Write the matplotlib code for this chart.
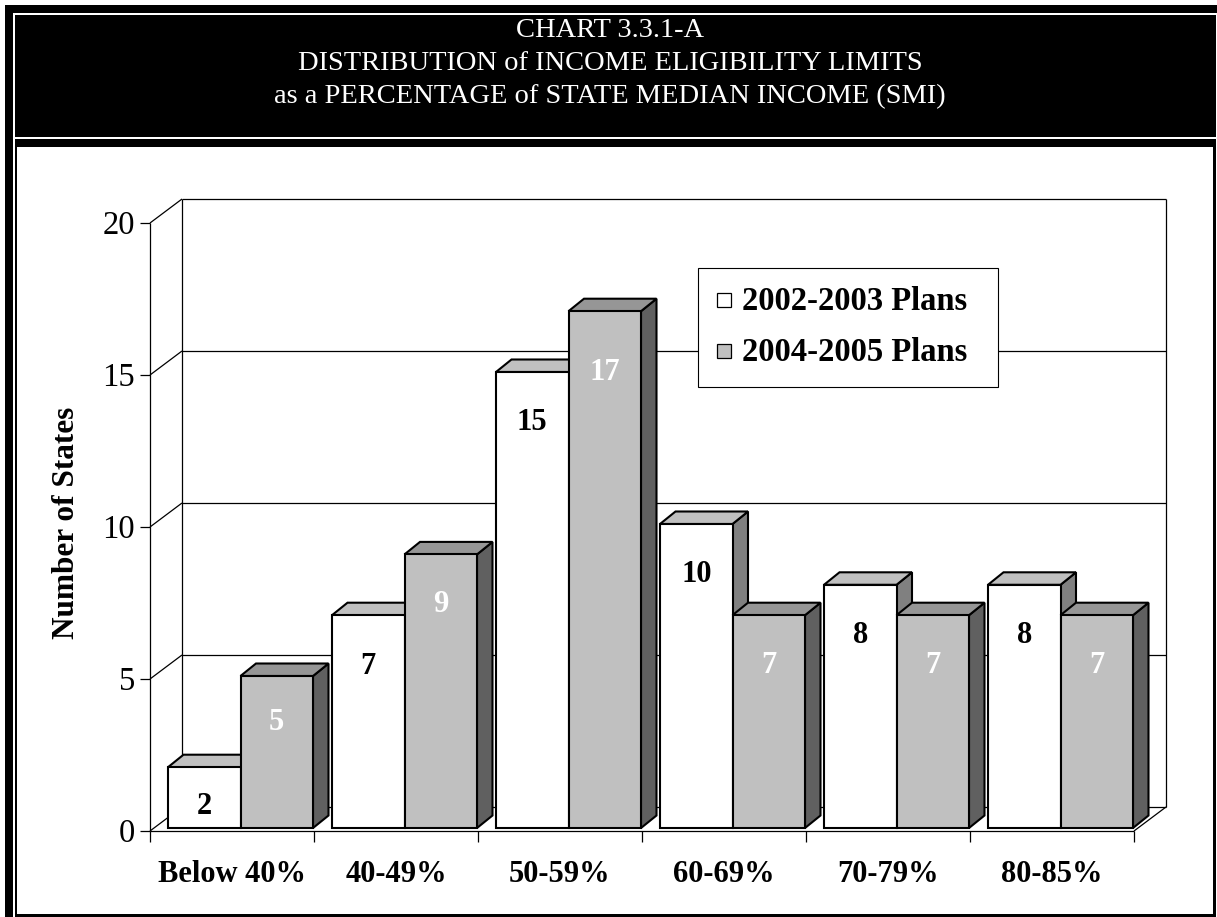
import matplotlib.pyplot as plt
from matplotlib.patches import Polygon, Rectangle

# -------------------- data --------------------
categories = ["Below 40%", "40-49%", "50-59%", "60-69%", "70-79%", "80-85%"]
plans_2002 = [2, 7, 15, 10, 8, 8]
plans_2004 = [5, 9, 17, 7, 7, 7]
series_names = ["2002-2003 Plans", "2004-2005 Plans"]
y_ticks = [0, 5, 10, 15, 20]
title_lines = ["CHART 3.3.1-A",
               "DISTRIBUTION of INCOME ELIGIBILITY LIMITS",
               "as a PERCENTAGE of STATE MEDIAN INCOME (SMI)"]

# -------------------- layout (pixels) --------------------
W, H = 1217, 917
FONT = "Liberation Serif"
left, right, top, bottom = 150, 1134, 223, 831
label_drop = [[36, 48, 47, 48, 48, 48],     # px from bar top to label centre
              [44, 47, 58, 47, 47, 47]]
face = [("#ffffff", "#c0c0c0", "#808080"),   # front, top, side
        ("#c0c0c0", "#969696", "#606060")]
text_col = ["black", "white"]

fig = plt.figure(figsize=(W / 100, H / 100), dpi=100)

# background frame (pixel coords)
bg = fig.add_axes([0, 0, 1, 1], zorder=0)
bg.set_xlim(0, W)
bg.set_ylim(H, 0)
bg.axis("off")
bg.add_patch(Rectangle((5, 5), W, H, facecolor="black", edgecolor="none"))
bg.add_patch(Rectangle((13, 13), W, H, facecolor="white", edgecolor="none"))
bg.add_patch(Rectangle((15, 15), 1201, H, facecolor="black", edgecolor="none"))
bg.add_patch(Rectangle((15, 137), 1201, 2, facecolor="white", edgecolor="none"))
bg.add_patch(Rectangle((17, 147), 1196, 767, facecolor="white", edgecolor="none"))
for k, line in enumerate(title_lines):
    bg.text(610, 37 + 33 * k, line, color="white", fontsize=20.5, family=FONT,
            ha="center", va="baseline")
bg.text(67, 523, "Number of States", rotation=90, fontsize=22.5, fontweight="bold",
        family=FONT, ha="center", va="center")

# chart axes: x = category index, y = number of states
ax = fig.add_axes([left / W, (H - bottom) / H, (right - left) / W, (bottom - top) / H], zorder=1)
n = len(categories)
ax.set_xlim(0, n)
ax.set_ylim(0, 20)
ax.axis("off")
sx = n / (right - left)
sy = 20 / (bottom - top)

wdx, wdy = 32 * sx, 24 * sy
lk = dict(color="black", lw=0.9, clip_on=False, solid_capstyle="butt")

# walls and gridlines
for v in y_ticks:
    ax.plot([wdx, n + wdx], [v + wdy, v + wdy], zorder=1, **lk)
    ax.plot([0, wdx], [v, v + wdy], zorder=1, **lk)
    ax.plot([-10 * sx, 0], [v, v], zorder=1, **lk)
    ax.text(-15 * sx, v - 11 * sy, str(v), ha="right", va="baseline",
            fontsize=23.5, family=FONT)
ax.plot([wdx, wdx], [wdy, 20 + wdy], zorder=1, **lk)
ax.plot([n + wdx, n + wdx], [wdy, 20 + wdy], zorder=1, **lk)
ax.plot([n, n + wdx], [0, wdy], zorder=1, **lk)
ax.plot([0, 0], [0, 20], zorder=1, **lk)
ax.plot([0, n], [0, 0], zorder=1, **lk)
for k in range(n + 1):
    ax.plot([k, k], [0, -11 * sy], zorder=1, **lk)
for i, cat in enumerate(categories):
    ax.text(i + 0.5, -51.5 * sy, cat, ha="center", va="baseline", fontsize=22,
            fontweight="bold", family=FONT)

# 3D-looking bars
bw = 72.5 * sx
bdx, bdy = 15.5 * sx, 12.5 * sy
y0 = 3 * sy
z = 3
for i in range(n):
    for j, vals in enumerate([plans_2002, plans_2004]):
        v = vals[i]
        x0 = i + 18 * sx + j * bw
        y1 = y0 + v
        fc, tc, sc = face[j]
        pk = dict(edgecolor="black", lw=1.5, joinstyle="miter", clip_on=False, zorder=z)
        ax.add_patch(Polygon([(x0 + bw, y0), (x0 + bw + bdx, y0 + bdy),
                              (x0 + bw + bdx, y1 + bdy), (x0 + bw, y1)], facecolor=sc, **pk))
        ax.add_patch(Polygon([(x0, y1), (x0 + bdx, y1 + bdy),
                              (x0 + bw + bdx, y1 + bdy), (x0 + bw, y1)], facecolor=tc, **pk))
        ax.add_patch(Rectangle((x0, y0), bw, v, facecolor=fc, **pk))
        ax.text(x0 + bw / 2, y1 - (label_drop[j][i] + 10.5) * sy, str(v), color=text_col[j],
                ha="center", va="baseline", fontsize=22, fontweight="bold", family=FONT,
                zorder=z + 1)
        z += 2

# legend (pixel coords, on top)
fg = fig.add_axes([0, 0, 1, 1], zorder=2)
fg.set_xlim(0, W)
fg.set_ylim(H, 0)
fg.axis("off")
fg.add_patch(Rectangle((698, 268), 300, 119, facecolor="white", edgecolor="black", lw=0.8))
for j, name in enumerate(series_names):
    cy = 300 + 51 * j
    fg.add_patch(Rectangle((717, cy - 7), 14, 14, facecolor=face[j][0], edgecolor="black", lw=0.9))
    fg.text(742, cy + 10, name, fontsize=23.5, fontweight="bold", family=FONT,
            ha="left", va="baseline")

fig.savefig("out.png", dpi=100)
